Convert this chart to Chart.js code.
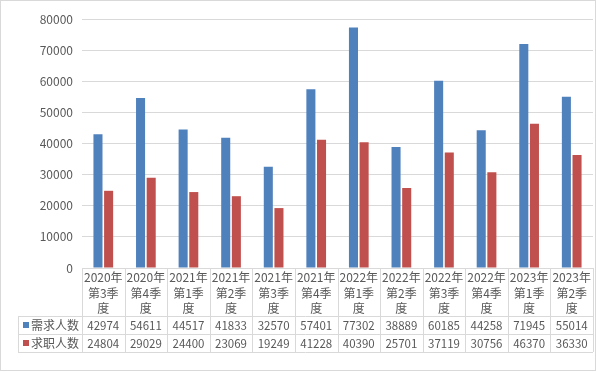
<!DOCTYPE html>
<html><head><meta charset="utf-8">
<script src="https://cdn.jsdelivr.net/npm/chart.js@4"></script>
<style>html,body{margin:0;padding:0;background:#fff;}canvas{display:block;}</style>
</head><body>
<canvas id="c" width="596" height="372"></canvas>
<script>
const yearLabels = ['2020年','2020年','2021年','2021年','2021年','2021年','2022年','2022年','2022年','2022年','2023年','2023年'];
const quarterLabels = ['第3季','第4季','第1季','第2季','第3季','第4季','第1季','第2季','第3季','第4季','第1季','第2季'];
const suffixLabels = ['度','度','度','度','度','度','度','度','度','度','度','度'];
const seriesNames = ['需求人数','求职人数'];
const demand = [42974,54611,44517,41833,32570,57401,77302,38889,60185,44258,71945,55014];
const seekers = [24804,29029,24400,23069,19249,41228,40390,25701,37119,30756,46370,36330];
const yTicks = [0,10000,20000,30000,40000,50000,60000,70000,80000];

const BLUE = '#4F81BD', RED = '#C0504D', GRID = '#D9D9D9', TXT = '#595959';
const FONT = '"Noto Sans CJK SC", "Noto Sans", sans-serif';

const tablePlugin = {
  id: 'dataTable',
  afterDraw(chart) {
    const ctx = chart.ctx;
    const xs = chart.scales.x;
    const area = chart.chartArea;
    const n = demand.length;
    const w = (area.right - area.left) / n;
    const top = area.bottom;
    const hdrBottom = top + 48;
    const row1 = hdrBottom + 18;
    const row2 = row1 + 18;
    const legendLeft = 18;
    ctx.save();
    ctx.strokeStyle = GRID;
    ctx.lineWidth = 1;
    ctx.beginPath();
    [hdrBottom, row1, row2].forEach(y => {
      ctx.moveTo(legendLeft, Math.round(y) + 0.5);
      ctx.lineTo(area.right, Math.round(y) + 0.5);
    });
    for (let i = 0; i <= n; i++) {
      const x = Math.round(area.left + i * w) + 0.5;
      ctx.moveTo(x, top);
      ctx.lineTo(x, row2);
    }
    ctx.moveTo(legendLeft + 0.5, hdrBottom);
    ctx.lineTo(legendLeft + 0.5, row2);
    ctx.stroke();
    ctx.beginPath();
    ctx.moveTo(area.left, Math.round(top) + 0.5);
    ctx.lineTo(area.right, Math.round(top) + 0.5);
    ctx.stroke();

    ctx.fillStyle = TXT;
    ctx.textAlign = 'center';
    ctx.textBaseline = 'middle';
    for (let i = 0; i < n; i++) {
      const cx = xs.getPixelForValue(i);
      ctx.font = '12px ' + FONT;
      ctx.fillText(yearLabels[i], cx, top + 9);
      ctx.fillText(quarterLabels[i], cx, top + 25);
      ctx.fillText(suffixLabels[i], cx, top + 40);
      ctx.font = '11.5px ' + FONT;
      ctx.fillText(String(demand[i]), cx, hdrBottom + 9.5);
      ctx.fillText(String(seekers[i]), cx, row1 + 9.5);
    }
    ctx.textAlign = 'left';
    ctx.font = '12px ' + FONT;
    const legendRows = [[hdrBottom, BLUE], [row1, RED]];
    legendRows.forEach(([y, col], k) => {
      ctx.fillStyle = col;
      ctx.fillRect(23, Math.round(y + 6), 6, 6);
      ctx.fillStyle = TXT;
      ctx.fillText(seriesNames[k], 31, y + 9.5);
    });
    ctx.strokeStyle = GRID;
    ctx.strokeRect(0.5, 0.5, chart.width - 1, chart.height - 2);
    ctx.restore();
  }
};

new Chart(document.getElementById('c'), {
  type: 'bar',
  data: {
    labels: yearLabels.map((y, i) => y + quarterLabels[i] + suffixLabels[i]),
    datasets: [
      { label: seriesNames[0], data: demand, backgroundColor: BLUE, categoryPercentage: 0.5, barPercentage: 0.85 },
      { label: seriesNames[1], data: seekers, backgroundColor: RED, categoryPercentage: 0.5, barPercentage: 0.85 }
    ]
  },
  options: {
    responsive: false,
    animation: false,
    devicePixelRatio: 1,
    layout: { padding: { left: 0, right: 3, top: 19, bottom: 104 } },
    plugins: { legend: { display: false }, tooltip: { enabled: false } },
    scales: {
      x: { display: false },
      y: {
        min: 0, max: 80000,
        afterFit(s) { s.width = 82; },
        afterBuildTicks(s) { s.ticks = yTicks.map(v => ({ value: v })); },
        border: { display: false },
        grid: { color: GRID, drawTicks: false },
        ticks: { color: TXT, padding: 9, font: { family: FONT, size: 12 }, callback: v => String(v) }
      }
    }
  },
  plugins: [tablePlugin]
});
</script>
</body></html>
